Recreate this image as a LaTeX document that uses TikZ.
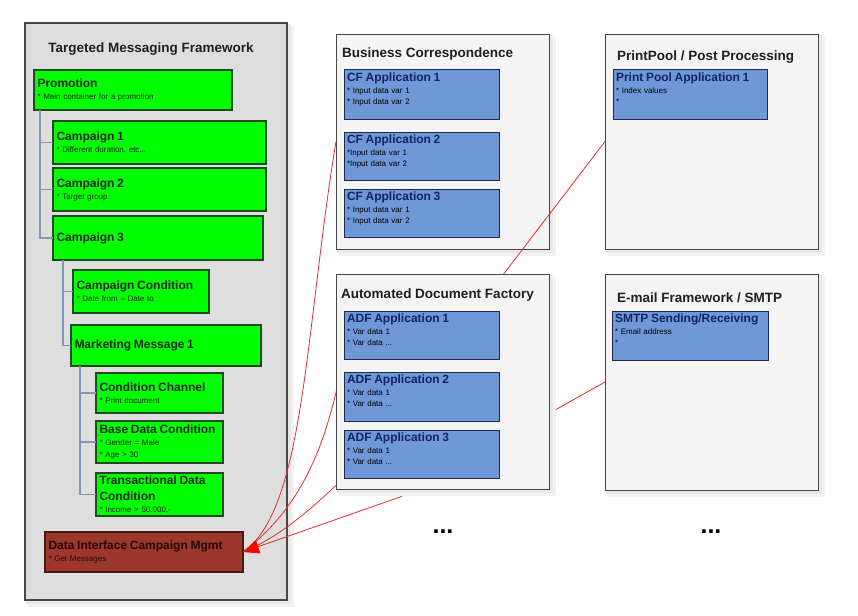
\documentclass[tikz,border=0pt]{standalone}
\usepackage{fontspec}
\setmainfont{Liberation Sans}
\usetikzlibrary{arrows.meta,calc}
\definecolor{gfill}{RGB}{0,255,0}
\definecolor{gline}{RGB}{30,75,30}
\definecolor{gtext}{RGB}{15,40,15}
\definecolor{bfill}{RGB}{110,152,216}
\definecolor{bline}{RGB}{30,40,80}
\definecolor{btext}{RGB}{20,35,100}
\definecolor{dfill}{RGB}{155,55,45}
\definecolor{dline}{RGB}{70,25,15}
\definecolor{dtext}{RGB}{40,8,4}
\definecolor{tmfill}{RGB}{222,222,222}
\definecolor{cfill}{RGB}{244,244,244}
\definecolor{cline}{RGB}{70,70,70}
\definecolor{treec}{RGB}{135,148,185}
\definecolor{redl}{RGB}{225,45,45}
\pgfdeclarelayer{back}
\pgfdeclarelayer{mid}
\pgfsetlayers{back,mid,main}
\newcommand\gtf{\fontsize{12}{15.5}\selectfont\bfseries}
\newcommand\atf{\fontsize{12}{14}\selectfont\bfseries\color{btext}}
\newcommand\placebox[7]{%
 \pgfmathsetmacro\bw{#5-#3}\pgfmathsetmacro\bh{#6-#4}\pgfmathsetmacro\tw{#5-#3-7}%
 \node[#1, minimum width=\bw pt, minimum height=\bh pt, text width=\tw pt] (#2) at ({(#3+#5)/2},{(#4+#6)/2}) {#7};}
\newcommand\apptext[4]{\node[atext] (#1) at ($(#2.north west)+(3,3)$) {{\atf #3\par}#4};}
\newcommand\castshadow[4]{%
 \fill[black!5] (#1+3,#2+3) rectangle (#3+7,#4+7);
 \fill[black!9] (#1+1,#2+1) rectangle (#3+4,#4+4);}
\begin{document}
\begin{tikzpicture}[x=1pt,y=-1pt,
 every node/.style={font=\fontsize{8}{12}\selectfont, outer sep=0pt},
 gbox/.style={draw=gline, line width=1.1pt, fill=gfill, inner xsep=3.5pt, inner ysep=0pt, align=left, text=gtext},
 dbox/.style={gbox, draw=dline, fill=dfill, text=dtext},
 abox/.style={draw=bline, line width=1pt, fill=bfill, inner xsep=3.5pt, inner ysep=0pt},
 atext/.style={anchor=north west, inner sep=0pt, align=left, text width=148pt, font=\fontsize{8}{11.5}\selectfont},
 cont/.style={draw=cline, line width=0.9pt, fill=cfill, inner xsep=3.5pt, inner ysep=0pt},
 ctitle/.style={anchor=base west, inner sep=0pt, font=\fontsize{13.5}{16}\selectfont\bfseries, text=black!88},
 tree/.style={draw=treec, line width=1.4pt},
 redline/.style={draw=redl, line width=0.8pt},
 dotstyle/.style={anchor=base, inner sep=0pt, font=\fontsize{25}{30}\selectfont\bfseries}]
\useasboundingbox (0,0) rectangle (858,615);
\begin{pgfonlayer}{back}
\fill[white] (0,0) rectangle (858,615);
% Targeted Messaging Framework
\castshadow{25}{23}{287}{600}
\placebox{cont, fill=tmfill, line width=1.1pt}{tmf}{25}{23}{287}{600}{}
\node[ctitle, anchor=base] (tmft) at (151,53) {Targeted Messaging Framework};
\placebox{gbox}{promo}{34}{70}{232}{110}{{\gtf Promotion\par}* Main container for a promotion}
\placebox{gbox}{camp1}{53}{121}{266}{164}{{\gtf Campaign 1\par}* Different duration, etc...}
\placebox{gbox}{camp2}{53}{168}{266}{211}{{\gtf Campaign 2\par}* Target group}
\placebox{gbox}{camp3}{53}{216}{263}{260}{{\gtf Campaign 3}}
\placebox{gbox}{cc}{73}{270}{209}{313}{{\gtf Campaign Condition\par}* Date from – Date to}
\placebox{gbox}{mm1}{71}{325}{261}{366}{{\gtf Marketing Message 1}}
\placebox{gbox}{chan}{96}{373}{223}{413}{{\gtf Condition Channel\par}* Print document}
\placebox{gbox}{bdc}{96}{421}{223}{463}{{\gtf Base Data Condition\par}* Gender = Male\par * Age > 30}
\placebox{gbox}{tdc}{96}{473}{223}{516}{{\gtf Transactional Data\\Condition\par}* Income > 50.000,-}
\placebox{dbox}{di}{45}{532}{243}{572}{{\gtf Data Interface Campaign Mgmt\par}* Get Messages}
\foreach \c in {camp1,camp2,camp3} \draw[tree] ($(promo.south west)+(6,0)$) |- (\c.west);
\foreach \c in {cc,mm1} \draw[tree] ($(camp3.south west)+(10,0)$) |- (\c.west);
\foreach \c in {chan,bdc,tdc} \draw[tree] ($(mm1.south west)+(9,0)$) |- (\c.west);
% Business Correspondence
\castshadow{336}{34}{549}{249}
\placebox{cont}{bc}{336}{34}{549}{249}{}
\node[ctitle] (bct) at (342,58) {Business Correspondence};
\placebox{abox}{cf1}{344}{70}{499}{119}{}
\placebox{abox}{cf2}{344}{132}{499}{180}{}
\placebox{abox}{cf3}{344}{189}{499}{237}{}
\apptext{cf1t}{cf1}{CF Application 1}{* Input data var 1\par * Input data var 2}
\apptext{cf2t}{cf2}{CF Application 2}{*Input data var 1\par *Input data var 2}
\apptext{cf3t}{cf3}{CF Application 3}{* Input data var 1\par * Input data var 2}
% PrintPool
\castshadow{605}{34}{818}{249}
\placebox{cont}{pp}{605}{34}{818}{249}{}
\node[ctitle] (ppt) at (617,61) {PrintPool / Post Processing};
\placebox{abox}{ppa}{613}{70}{767}{119}{}
\apptext{ppat}{ppa}{Print Pool Application 1}{* Index values\par *}
% E-mail
\castshadow{605}{274}{818}{490}
\placebox{cont}{em}{605}{274}{818}{490}{}
\node[ctitle] (emt) at (617,302) {E-mail Framework / SMTP};
\placebox{abox}{sm}{612}{311}{768}{360}{}
\apptext{smt}{sm}{SMTP Sending/Receiving}{* Email address\par *}
\end{pgfonlayer}
% Automated Document Factory (on top of connectors)
\castshadow{336}{274}{549}{489}
\placebox{cont}{adf}{336}{274}{549}{489}{}
\node[ctitle] (adft) at (341,298) {Automated Document Factory};
\placebox{abox}{adf1}{344}{311}{499}{359}{}
\placebox{abox}{adf2}{344}{372}{499}{421}{}
\placebox{abox}{adf3}{344}{430}{499}{478}{}
\apptext{adf1t}{adf1}{ADF Application 1}{* Var data 1\par * Var data ...}
\apptext{adf2t}{adf2}{ADF Application 2}{* Var data 1\par * Var data ...}
\apptext{adf3t}{adf3}{ADF Application 3}{* Var data 1\par * Var data ...}
\node[dotstyle] (dots1) at (443,533) {...};
\node[dotstyle] (dots2) at (711,533) {...};
% connectors
\begin{pgfonlayer}{mid}
\coordinate (tip) at (di.east);
\coordinate (h1) at (470,318);
\coordinate (h2) at (338,384);
\coordinate (h3) at (400,497);
\draw[redline] (bc.west) .. controls (305,330) and (305,510) .. (tip);
\draw[redline] (pp.west) -- (h1) -- (h2) .. controls (325,440) and (305,505) .. (tip);
\draw[redline] (adf3.south west) .. controls (320,500) and (285,535) .. (tip);
\draw[redline, -{Triangle[length=16pt,width=14pt,color=red]}] (em.west) -- (h3) -- (tip);
\end{pgfonlayer}
\end{tikzpicture}
\end{document}
